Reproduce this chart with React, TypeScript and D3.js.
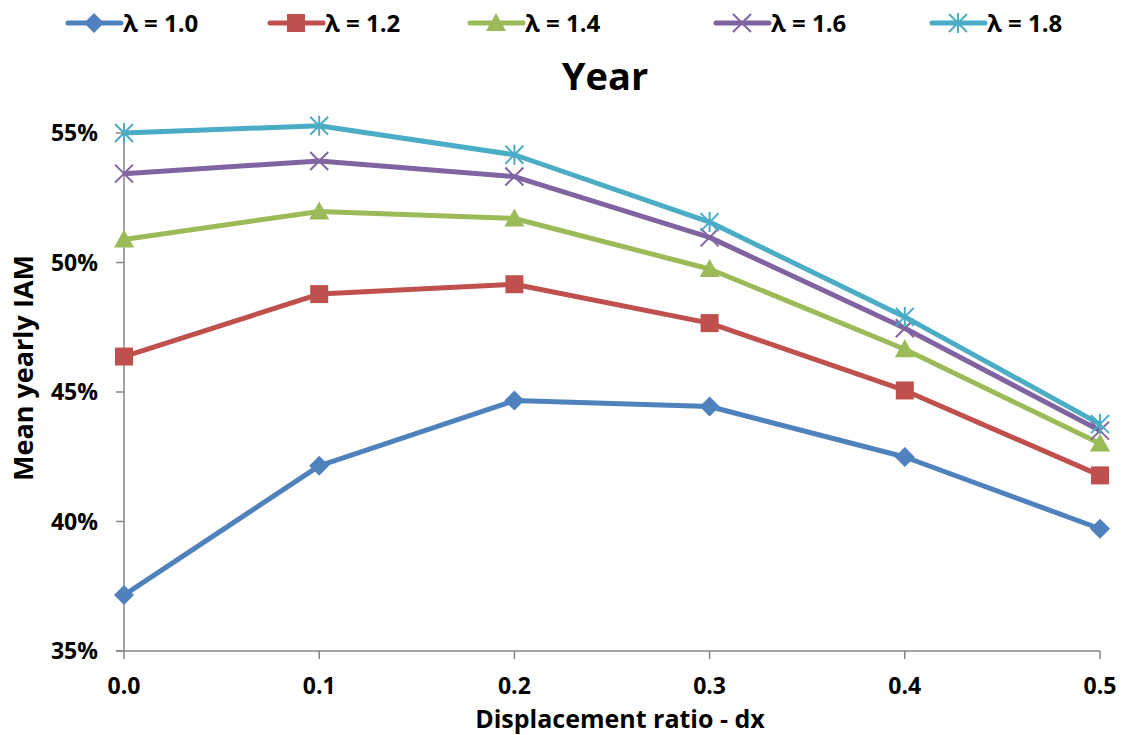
import React from 'react'
import * as d3 from 'd3'

// displacement ratios along the x axis
const ratios = [0.0, 0.1, 0.2, 0.3, 0.4, 0.5]

// mean yearly IAM (%) per lambda
const lambda10 = [37.16, 42.15, 44.67, 44.44, 42.49, 39.72]
const lambda12 = [46.37, 48.78, 49.16, 47.66, 45.06, 41.78]
const lambda14 = [50.89, 51.97, 51.70, 49.75, 46.65, 43.01]
const lambda16 = [53.43, 53.92, 53.32, 50.97, 47.46, 43.51]
const lambda18 = [55.00, 55.28, 54.16, 51.56, 47.90, 43.76]

const yTicks = [35, 40, 45, 50, 55]

const seriesList = [
  { name: 'λ = 1.0', values: lambda10, color: '#4F81BD', marker: 'diamond' },
  { name: 'λ = 1.2', values: lambda12, color: '#C0504D', marker: 'square' },
  { name: 'λ = 1.4', values: lambda14, color: '#9BBB59', marker: 'triangle' },
  { name: 'λ = 1.6', values: lambda16, color: '#8064A2', marker: 'x' },
  { name: 'λ = 1.8', values: lambda18, color: '#4BACC6', marker: 'star' },
]

const legendX = [68, 270, 470, 716, 932]

const width = 1126
const height = 735
const margin = { left: 124, right: 26, top: 133, bottom: 84 }
const font = '"Open Sans", Lato, sans-serif'

const Marker = ({ type, x, y, color }: { type: string; x: number; y: number; color: string }) => {
  if (type === 'diamond') {
    const s = 10
    return <path d={`M${x},${y - s}L${x + s},${y}L${x},${y + s}L${x - s},${y}Z`} fill={color} />
  }
  if (type === 'square') {
    return <rect x={x - 9} y={y - 9} width={18} height={18} fill={color} />
  }
  if (type === 'triangle') {
    return <path d={`M${x},${y - 10}L${x + 10},${y + 8}L${x - 10},${y + 8}Z`} fill={color} />
  }
  if (type === 'x') {
    const s = 9
    return (
      <path
        d={`M${x - s},${y - s}L${x + s},${y + s}M${x - s},${y + s}L${x + s},${y - s}`}
        stroke={color}
        strokeWidth={2}
      />
    )
  }
  const s = 9
  return (
    <path
      d={`M${x - s},${y - s}L${x + s},${y + s}M${x - s},${y + s}L${x + s},${y - s}M${x},${y - s - 1}L${x},${y + s + 1}`}
      stroke={color}
      strokeWidth={2}
    />
  )
}

export default function App() {
  const x = d3
    .scaleLinear()
    .domain([0, 0.5])
    .range([margin.left, width - margin.right])

  const y = d3
    .scaleLinear()
    .domain([35, 55])
    .range([height - margin.bottom, margin.top])

  const line = d3
    .line<number>()
    .x((_, i) => x(ratios[i]))
    .y(d => y(d))

  const axisColor = '#868686'

  return (
    <svg
      width={width}
      height={height}
      style={{ position: 'absolute', left: 0, top: 0, background: '#fff' }}
      fontFamily={font}
      fontWeight="bold"
    >
      {/* legend */}
      {seriesList.map((s, i) => (
        <g key={s.name}>
          <line x1={legendX[i]} x2={legendX[i] + 53} y1={23} y2={23} stroke={s.color} strokeWidth={5} strokeLinecap="round" />
          <Marker type={s.marker} x={legendX[i] + 26} y={23} color={s.color} />
          <text x={legendX[i] + 55} y={32} fontSize={24}>{s.name}</text>
        </g>
      ))}

      {/* title */}
      <text x={605} y={90} textAnchor="middle" fontSize={38}>Year</text>

      {/* axes */}
      <line x1={margin.left} x2={margin.left} y1={y(55) - 10} y2={y(35)} stroke={axisColor} strokeWidth={1.5} />
      <line x1={margin.left - 8} x2={width - margin.right} y1={y(35)} y2={y(35)} stroke={axisColor} strokeWidth={1.5} />
      {yTicks.map(t => (
        <g key={t}>
          <line x1={margin.left - 8} x2={margin.left} y1={y(t)} y2={y(t)} stroke={axisColor} strokeWidth={1.5} />
          <text x={98} y={y(t) + 8} textAnchor="end" fontSize={23}>{t}%</text>
        </g>
      ))}
      {ratios.map(r => (
        <g key={r}>
          <line x1={x(r)} x2={x(r)} y1={y(35)} y2={y(35) + 8} stroke={axisColor} strokeWidth={1.5} />
          <text x={x(r)} y={y(35) + 43} textAnchor="middle" fontSize={23}>{r.toFixed(1)}</text>
        </g>
      ))}

      {/* axis titles */}
      <text x={620} y={728} textAnchor="middle" fontSize={25}>Displacement ratio - dx</text>
      <text transform={`translate(33, 368) rotate(-90)`} textAnchor="middle" fontSize={27}>Mean yearly IAM</text>

      {/* series */}
      {seriesList.map(s => (
        <g key={s.name}>
          <path d={line(s.values) ?? ''} fill="none" stroke={s.color} strokeWidth={5} strokeLinejoin="round" />
          {s.values.map((v, i) => (
            <Marker key={i} type={s.marker} x={x(ratios[i])} y={y(v)} color={s.color} />
          ))}
        </g>
      ))}
    </svg>
  )
}
